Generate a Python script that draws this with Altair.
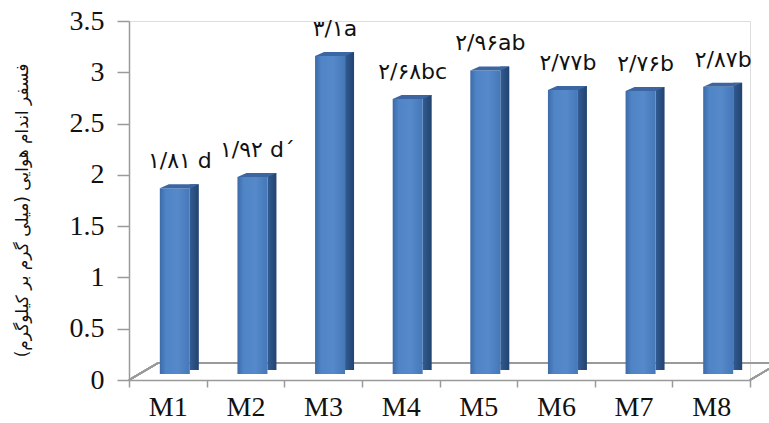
import altair as alt
import pandas as pd

categories = ["M1", "M2", "M3", "M4", "M5", "M6", "M7", "M8"]
values = [1.81, 1.92, 3.1, 2.68, 2.96, 2.77, 2.76, 2.8]
labels = ["۱/۸۱ d", "۱/۹۲ d´", "۳/۱a", "۲/۶۸bc", "۲/۹۶ab", "۲/۷۷b", "۲/۷۶b", "۲/۸۷b"]
y_ticks = [0, 0.5, 1, 1.5, 2, 2.5, 3, 3.5]
y_title = "فسفر اندام هوایی (میلی گرم بر کیلوگرم)"

df = pd.DataFrame({"cat": categories, "value": values, "label": labels})

W, H = 621, 359
AX = "#9a9a9a"

x_enc = alt.X(
    "cat:N", sort=categories,
    scale=alt.Scale(paddingInner=0, paddingOuter=0),
    axis=alt.Axis(title=None, labelAngle=0, labelFont="Liberation Serif",
                  labelFontSize=28, labelColor="#111", labelPadding=6,
                  tickBand="extent", tickSize=7, tickColor=AX, tickWidth=1.5,
                  domainColor=AX, domainWidth=1.5, grid=False),
)
y_enc = alt.Y(
    "value:Q",
    scale=alt.Scale(domain=[0, 3.5], nice=False, zero=True),
    axis=alt.Axis(values=y_ticks, labelExpr="toString(datum.value)",
                  labelFont="Liberation Serif", labelFontSize=28, labelColor="#111",
                  labelPadding=13, tickSize=12, tickColor=AX, tickWidth=1.5,
                  domainColor=AX, domainWidth=1.5, grid=False,
                  title=y_title, titleFont="DejaVu Sans", titleFontSize=17,
                  titleFontWeight="normal", titleColor="#111",
                  titleX=-107, titleY=189, titleBaseline="middle", titleAlign="center"),
)

base = alt.Chart(df)

floor_left = base.mark_rule(color=AX, strokeWidth=1.5, y2Offset=-17).encode(
    x=alt.value(0), x2=alt.value(29), y=alt.datum(0), y2=alt.datum(0))
floor_back = base.mark_rule(color=AX, strokeWidth=1.5, yOffset=-17).encode(
    x=alt.value(29), x2=alt.value(650), y=alt.datum(0))
floor_right = base.mark_rule(color=AX, strokeWidth=1.5, y2Offset=-17).encode(
    x=alt.value(W), x2=alt.value(W + 29), y=alt.datum(0), y2=alt.datum(0))

side_grad = alt.Gradient(gradient="linear", x1=0, x2=1, y1=0, y2=0,
                         stops=[alt.GradientStop(color="#325c93", offset=0),
                                alt.GradientStop(color="#22436f", offset=1)])
front_grad = alt.Gradient(gradient="linear", x1=0, x2=1, y1=0, y2=0,
                          stops=[alt.GradientStop(color="#3d6aa8", offset=0),
                                 alt.GradientStop(color="#4f84c6", offset=0.2),
                                 alt.GradientStop(color="#5589ca", offset=0.6),
                                 alt.GradientStop(color="#4678b8", offset=1)])

side = base.mark_bar(width=9, xOffset=26.5, yOffset=-10, y2Offset=-10,
                     color=side_grad).encode(x=x_enc, y=y_enc)
front = base.mark_bar(width=30, xOffset=7, yOffset=-6, y2Offset=-6,
                      color=front_grad).encode(x=x_enc, y=y_enc)
top = base.mark_point(shape="M -8 0 L 22 0 L 31 -4 L 1 -4 Z", size=4, filled=True,
                      opacity=1, strokeWidth=0, color="#3b66a2",
                      yOffset=-6).encode(x=x_enc, y=y_enc)
text = base.mark_text(font="DejaVu Sans", fontSize=22, color="#111",
                      baseline="alphabetic", xOffset=12, yOffset=-26).encode(
    x=x_enc, y=y_enc, text="label:N")

chart = alt.layer(floor_left, floor_back, floor_right, side, front, top, text).properties(
    width=W, height=H,
    autosize=alt.AutoSizeParams(type="none"),
    padding={"left": 129, "top": 21, "right": 19, "bottom": 43},
).configure_view(stroke=None).configure(background="white")

chart.save("out.html", embed_options={"renderer": "svg", "actions": False})
